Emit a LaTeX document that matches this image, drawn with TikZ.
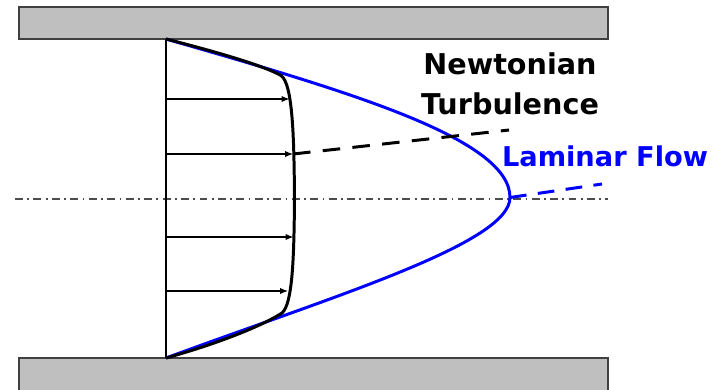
\documentclass[tikz,border=0pt]{standalone}
\usepackage{fontspec}
\newfontfamily\labelfont{DejaVu Sans}
\usetikzlibrary{arrows.meta,calc}

\begin{document}
\begin{tikzpicture}[>=Latex,
  plate/.style={draw=black!75, line width=0.8pt, fill=black!25},
  vel/.style={-{Latex[length=4.5pt,width=3.6pt]}, line width=0.7pt},
  profile/.style={line width=1.7pt, line join=round},
  lead/.style={line width=1.7pt, dash pattern=on 10pt off 7pt},
  lbl/.style={inner sep=0pt, align=center}]
  \useasboundingbox (0,0) rectangle (14.34,7.78);

  \coordinate (A) at (3.32,7.0);
  \coordinate (B) at (3.32,0.62);
  \coordinate (V) at (10.2,3.83);

  \draw[plate] (0.38,7.0) rectangle (12.16,7.64);
  \draw[plate] (0.38,-0.1) rectangle (12.16,0.62);

  \draw[black!70, line width=1.1pt, dash pattern=on 4.5pt off 2.5pt on 1pt off 2.5pt]
    (0.3,3.8) -- (12.16,3.8);

  \draw[line width=0.7pt] (A) -- (B);

  \foreach \y/\x [count=\i] in {5.8/5.79, 4.7/5.86, 3.04/5.87, 1.96/5.76} {
    \coordinate (t\i) at (\x,\y);
    \draw[vel] (A |- t\i) -- (t\i);
  }

  \draw[profile, blue] (A) .. controls (7.01,5.94) and (10.2,5.0) .. (V)
    .. controls (10.2,2.91) and (6.62,1.84) .. (B);

  \draw[profile] (A) .. controls (4.5,6.7) and (5.3,6.45) .. (5.62,6.27)
    .. controls (5.86,6.1) and (5.88,5.0) .. (5.89,3.81)
    .. controls (5.88,2.6) and (5.85,1.7) .. (5.64,1.52)
    .. controls (5.3,1.3) and (4.5,0.95) .. (B);

  \node[lbl, font=\labelfont\bfseries\fontsize{16.3}{23}\selectfont] (turb) at (10.2,6.1)
    {Newtonian\\Turbulence};
  \node[lbl, text=blue, font=\labelfont\bfseries\fontsize{15.5}{19}\selectfont] (lam) at (12.1,4.65)
    {Laminar Flow};

  \coordinate (turbend) at (10.18,5.18);
  \coordinate (lamend) at (12.04,4.1);
  \draw[lead] (t2) -- (turbend);
  \draw[lead, blue, dash pattern=on 9.5pt off 6.5pt] (V) -- (lamend);
\end{tikzpicture}
\end{document}
